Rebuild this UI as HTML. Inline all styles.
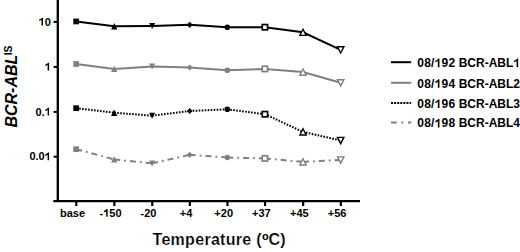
<!DOCTYPE html>
<html><head><meta charset="utf-8"><style>
html,body{margin:0;padding:0;background:#fff;width:520px;height:252px;overflow:hidden}
svg{display:block}
text{font-family:"Liberation Sans",sans-serif;font-weight:bold;fill:#000}
.tk{font-size:11px}
.tx{font-size:11px}
.lg{font-size:12px}
.ti{font-size:16px;stroke:#fff;stroke-width:0.2px}
.one{fill:transparent}
</style></head><body>
<svg width="520" height="252" viewBox="0 0 520 252">
<rect width="520" height="252" fill="#fff"/>
<line x1="57.8" y1="0" x2="57.8" y2="201.6" stroke="#000" stroke-width="2.3"/>
<line x1="53.3" y1="201.2" x2="360" y2="201.2" stroke="#000" stroke-width="2.2"/>
<line x1="53.6" y1="21.9" x2="57.8" y2="21.9" stroke="#000" stroke-width="2"/>
<line x1="53.6" y1="66.9" x2="57.8" y2="66.9" stroke="#000" stroke-width="2"/>
<line x1="53.6" y1="111.9" x2="57.8" y2="111.9" stroke="#000" stroke-width="2"/>
<line x1="53.6" y1="156.7" x2="57.8" y2="156.7" stroke="#000" stroke-width="2"/>
<line x1="76.30" y1="201.2" x2="76.30" y2="206" stroke="#000" stroke-width="2.2"/>
<line x1="114.35" y1="201.2" x2="114.35" y2="206" stroke="#000" stroke-width="2.2"/>
<line x1="152.25" y1="201.2" x2="152.25" y2="206" stroke="#000" stroke-width="2.2"/>
<line x1="189.85" y1="201.2" x2="189.85" y2="206" stroke="#000" stroke-width="2.2"/>
<line x1="227.45" y1="201.2" x2="227.45" y2="206" stroke="#000" stroke-width="2.2"/>
<line x1="265.05" y1="201.2" x2="265.05" y2="206" stroke="#000" stroke-width="2.2"/>
<line x1="303.15" y1="201.2" x2="303.15" y2="206" stroke="#000" stroke-width="2.2"/>
<line x1="340.85" y1="201.2" x2="340.85" y2="206" stroke="#000" stroke-width="2.2"/>
<text x="50.8" y="25.50" text-anchor="end" class="tk"><tspan class="one">1</tspan>0</text>
<text x="50.8" y="70.50" text-anchor="end" class="tk"><tspan class="one">1</tspan></text>
<text x="50.8" y="115.50" text-anchor="end" class="tk">0.<tspan class="one">1</tspan></text>
<text x="50.8" y="160.30" text-anchor="end" class="tk">0.0<tspan class="one">1</tspan></text>
<text x="72.55" y="216.8" text-anchor="middle" class="tx">base</text>
<text x="110.60" y="216.8" text-anchor="middle" class="tx">-<tspan class="one">1</tspan>50</text>
<text x="148.50" y="216.8" text-anchor="middle" class="tx">-20</text>
<text x="186.10" y="216.8" text-anchor="middle" class="tx">+4</text>
<text x="223.70" y="216.8" text-anchor="middle" class="tx">+20</text>
<text x="261.30" y="216.8" text-anchor="middle" class="tx">+37</text>
<text x="299.40" y="216.8" text-anchor="middle" class="tx">+45</text>
<text x="337.10" y="216.8" text-anchor="middle" class="tx">+56</text>
<polyline points="76.15,21.45 114.20,26.20 152.10,25.90 189.70,24.80 227.30,27.20 264.90,27.20 303.00,32.30 340.70,49.90" fill="none" stroke="#000" stroke-width="2.0"/>
<polyline points="76.15,64.00 114.20,68.90 152.10,66.50 189.70,67.50 227.30,70.30 264.90,68.90 303.00,72.10 340.70,82.80" fill="none" stroke="#808080" stroke-width="2.0"/>
<line x1="76.15" y1="108.20" x2="114.20" y2="112.70" stroke="#000" stroke-width="2.0" stroke-dasharray="1.6 1.4"/>
<line x1="114.20" y1="112.70" x2="152.10" y2="115.70" stroke="#000" stroke-width="2.0" stroke-dasharray="1.6 1.4"/>
<line x1="152.10" y1="115.70" x2="189.70" y2="111.00" stroke="#000" stroke-width="2.0" stroke-dasharray="1.6 1.4"/>
<line x1="189.70" y1="111.00" x2="227.30" y2="109.30" stroke="#000" stroke-width="2.0" stroke-dasharray="1.6 1.4"/>
<line x1="227.30" y1="109.30" x2="264.90" y2="114.20" stroke="#000" stroke-width="2.0" stroke-dasharray="1.6 1.4"/>
<line x1="264.90" y1="114.20" x2="303.00" y2="131.90" stroke="#000" stroke-width="2.0" stroke-dasharray="1.6 1.4"/>
<line x1="303.00" y1="131.90" x2="340.70" y2="140.50" stroke="#000" stroke-width="2.0" stroke-dasharray="1.6 1.4"/>
<line x1="76.15" y1="149.20" x2="114.20" y2="159.40" stroke="#808080" stroke-width="2.0" stroke-dasharray="6 4 1.8 4"/>
<line x1="114.20" y1="159.40" x2="152.10" y2="163.40" stroke="#808080" stroke-width="2.0" stroke-dasharray="6 4 1.8 4"/>
<line x1="152.10" y1="163.40" x2="189.70" y2="154.80" stroke="#808080" stroke-width="2.0" stroke-dasharray="6 4 1.8 4"/>
<line x1="189.70" y1="154.80" x2="227.30" y2="157.50" stroke="#808080" stroke-width="2.0" stroke-dasharray="6 4 1.8 4"/>
<line x1="227.30" y1="157.50" x2="264.90" y2="158.40" stroke="#808080" stroke-width="2.0" stroke-dasharray="6 4 1.8 4"/>
<line x1="264.90" y1="158.40" x2="303.00" y2="161.90" stroke="#808080" stroke-width="2.0" stroke-dasharray="6 4 1.8 4"/>
<line x1="303.00" y1="161.90" x2="340.70" y2="160.00" stroke="#808080" stroke-width="2.0" stroke-dasharray="6 4 1.8 4"/>
<rect x="73.30" y="18.60" width="5.70" height="5.70" fill="#000"/>
<path d="M114.20,23.00 L117.30,29.40 L111.10,29.40Z" fill="#000"/>
<path d="M149.10,22.90 L155.10,22.90 L152.10,28.90Z" fill="#000"/>
<path d="M189.70,21.70 L192.50,24.80 L189.70,27.90 L186.90,24.80Z" fill="#000"/>
<circle cx="227.30" cy="27.20" r="2.8" fill="#000"/>
<rect x="262.25" y="24.55" width="5.30" height="5.30" fill="#fff" stroke="#000" stroke-width="1.7"/>
<path d="M303.00,29.20 L306.20,35.40 L299.80,35.40Z" fill="#fff" stroke="#000" stroke-width="1.4" stroke-linejoin="miter"/>
<path d="M337.50,46.80 L343.90,46.80 L340.70,53.00Z" fill="#fff" stroke="#000" stroke-width="1.4" stroke-linejoin="miter"/>
<rect x="73.30" y="61.15" width="5.70" height="5.70" fill="#808080"/>
<path d="M114.20,65.70 L117.30,72.10 L111.10,72.10Z" fill="#808080"/>
<path d="M149.10,63.50 L155.10,63.50 L152.10,69.50Z" fill="#808080"/>
<path d="M189.70,64.40 L192.50,67.50 L189.70,70.60 L186.90,67.50Z" fill="#808080"/>
<circle cx="227.30" cy="70.30" r="2.8" fill="#808080"/>
<rect x="262.25" y="66.25" width="5.30" height="5.30" fill="#fff" stroke="#808080" stroke-width="1.7"/>
<path d="M303.00,69.00 L306.20,75.20 L299.80,75.20Z" fill="#fff" stroke="#808080" stroke-width="1.4" stroke-linejoin="miter"/>
<path d="M337.50,79.70 L343.90,79.70 L340.70,85.90Z" fill="#fff" stroke="#808080" stroke-width="1.4" stroke-linejoin="miter"/>
<rect x="73.30" y="105.35" width="5.70" height="5.70" fill="#000"/>
<path d="M114.20,109.50 L117.30,115.90 L111.10,115.90Z" fill="#000"/>
<path d="M149.10,112.70 L155.10,112.70 L152.10,118.70Z" fill="#000"/>
<path d="M189.70,107.90 L192.50,111.00 L189.70,114.10 L186.90,111.00Z" fill="#000"/>
<circle cx="227.30" cy="109.30" r="2.8" fill="#000"/>
<rect x="262.25" y="111.55" width="5.30" height="5.30" fill="#fff" stroke="#000" stroke-width="1.7"/>
<path d="M303.00,128.80 L306.20,135.00 L299.80,135.00Z" fill="#fff" stroke="#000" stroke-width="1.4" stroke-linejoin="miter"/>
<path d="M337.50,137.40 L343.90,137.40 L340.70,143.60Z" fill="#fff" stroke="#000" stroke-width="1.4" stroke-linejoin="miter"/>
<rect x="73.30" y="146.35" width="5.70" height="5.70" fill="#808080"/>
<path d="M114.20,156.20 L117.30,162.60 L111.10,162.60Z" fill="#808080"/>
<path d="M149.10,160.40 L155.10,160.40 L152.10,166.40Z" fill="#808080"/>
<path d="M189.70,151.70 L192.50,154.80 L189.70,157.90 L186.90,154.80Z" fill="#808080"/>
<circle cx="227.30" cy="157.50" r="2.8" fill="#808080"/>
<rect x="262.25" y="155.75" width="5.30" height="5.30" fill="#fff" stroke="#808080" stroke-width="1.7"/>
<path d="M303.00,158.80 L306.20,165.00 L299.80,165.00Z" fill="#fff" stroke="#808080" stroke-width="1.4" stroke-linejoin="miter"/>
<path d="M337.50,156.90 L343.90,156.90 L340.70,163.10Z" fill="#fff" stroke="#808080" stroke-width="1.4" stroke-linejoin="miter"/>
<line x1="391" y1="62.2" x2="411.2" y2="62.2" stroke="#000" stroke-width="2"/>
<text x="417.3" y="67.20" class="lg"><tspan letter-spacing="0.22">08/<tspan class="one">1</tspan>92</tspan> BCR-ABL<tspan class="one">1</tspan></text>
<line x1="391" y1="82.8" x2="411.2" y2="82.8" stroke="#808080" stroke-width="2"/>
<text x="417.3" y="87.80" class="lg"><tspan letter-spacing="0.22">08/<tspan class="one">1</tspan>94</tspan> BCR-ABL2</text>
<line x1="391" y1="103.0" x2="411.2" y2="103.0" stroke="#000" stroke-width="2" stroke-dasharray="2 1.1"/>
<text x="417.3" y="108.00" class="lg"><tspan letter-spacing="0.22">08/<tspan class="one">1</tspan>96</tspan> BCR-ABL3</text>
<line x1="391" y1="122.4" x2="411.2" y2="122.4" stroke="#808080" stroke-width="2" stroke-dasharray="5.7 4.7 1.8 4.8"/>
<text x="417.3" y="127.40" class="lg"><tspan letter-spacing="0.22">08/<tspan class="one">1</tspan>98</tspan> BCR-ABL4</text>
<text x="152.5" y="244.8" class="ti" letter-spacing="0.3">Temperature (<tspan font-size="11" dy="-4.8" style="stroke:none">o</tspan><tspan dy="4.8" dx="-0.5">C)</tspan></text>
<text transform="translate(16.7,127.6) rotate(-90)" class="ti" style="stroke:none"><tspan font-style="italic">BCR-ABL</tspan><tspan font-size="10.5" dy="-5.2" dx="-0.6">IS</tspan></text>
<path transform="translate(38.55,25.50) scale(0.005371,-0.005371)" d="M821,0L547,0L547,1049C457,963 288,882 115,833L115,1085C210,1114 313,1163 424,1244C535,1325 614,1399 660,1466L821,1466Z"/>
<path transform="translate(44.67,70.50) scale(0.005371,-0.005371)" d="M821,0L547,0L547,1049C457,963 288,882 115,833L115,1085C210,1114 313,1163 424,1244C535,1325 614,1399 660,1466L821,1466Z"/>
<path transform="translate(44.67,115.50) scale(0.005371,-0.005371)" d="M821,0L547,0L547,1049C457,963 288,882 115,833L115,1085C210,1114 313,1163 424,1244C535,1325 614,1399 660,1466L821,1466Z"/>
<path transform="translate(44.67,160.30) scale(0.005371,-0.005371)" d="M821,0L547,0L547,1049C457,963 288,882 115,833L115,1085C210,1114 313,1163 424,1244C535,1325 614,1399 660,1466L821,1466Z"/>
<path transform="translate(103.25,216.80) scale(0.005371,-0.005371)" d="M821,0L547,0L547,1049C457,963 288,882 115,833L115,1085C210,1114 313,1163 424,1244C535,1325 614,1399 660,1466L821,1466Z"/>
<path transform="translate(434.64,67.20) scale(0.005859,-0.005859)" d="M821,0L547,0L547,1049C457,963 288,882 115,833L115,1085C210,1114 313,1163 424,1244C535,1325 614,1399 660,1466L821,1466Z"/>
<path transform="translate(513.35,67.20) scale(0.005859,-0.005859)" d="M821,0L547,0L547,1049C457,963 288,882 115,833L115,1085C210,1114 313,1163 424,1244C535,1325 614,1399 660,1466L821,1466Z"/>
<path transform="translate(434.64,87.80) scale(0.005859,-0.005859)" d="M821,0L547,0L547,1049C457,963 288,882 115,833L115,1085C210,1114 313,1163 424,1244C535,1325 614,1399 660,1466L821,1466Z"/>
<path transform="translate(434.64,108.00) scale(0.005859,-0.005859)" d="M821,0L547,0L547,1049C457,963 288,882 115,833L115,1085C210,1114 313,1163 424,1244C535,1325 614,1399 660,1466L821,1466Z"/>
<path transform="translate(434.64,127.40) scale(0.005859,-0.005859)" d="M821,0L547,0L547,1049C457,963 288,882 115,833L115,1085C210,1114 313,1163 424,1244C535,1325 614,1399 660,1466L821,1466Z"/>
</svg>
</body></html>
